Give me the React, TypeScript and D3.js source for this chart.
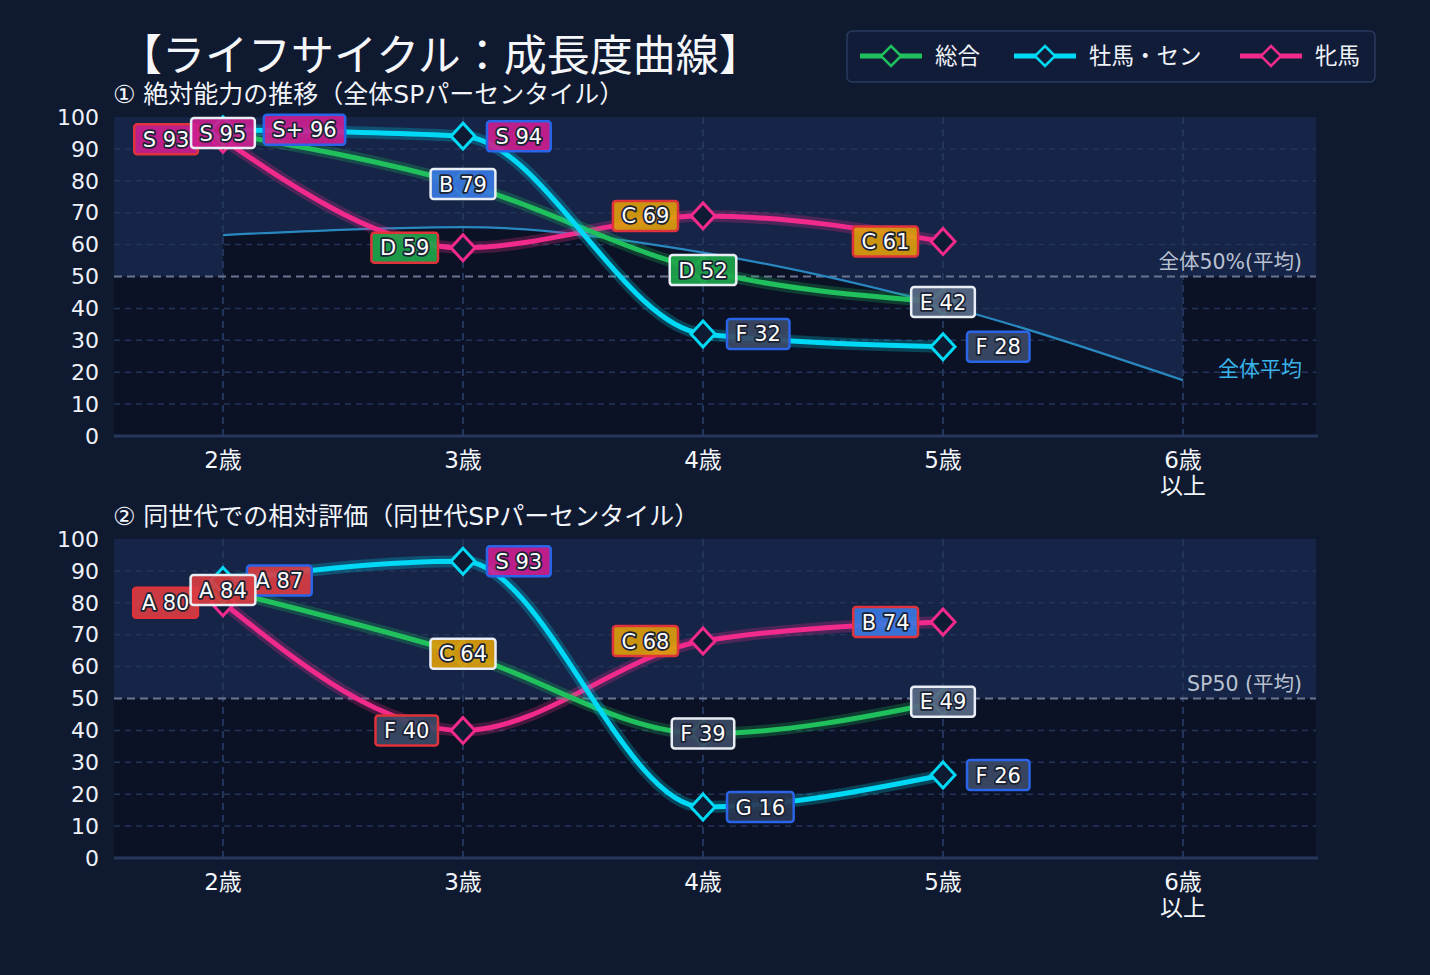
import React, { useEffect, useRef } from "react";
import * as d3 from "d3";

// ---- data ----
const ages = [2, 3, 4, 5, 6];
const ageLabels = [["2歳"], ["3歳"], ["4歳"], ["5歳"], ["6歳", "以上"]];
const seriesNames = ["総合", "牡馬・セン", "牝馬"];

// ① 絶対能力 (全体SPパーセンタイル)
const absTotal = [95, 79, 52, 42];
const absTotalGrade = ["S", "B", "D", "E"];
const absMale = [96, 94, 32, 28];
const absMaleGrade = ["S+", "S", "F", "F"];
const absFemale = [93, 59, 69, 61];
const absFemaleGrade = ["S", "D", "C", "C"];
const overallAvg = [63, 65.5, 57.5, 41, 17.5];

// ② 同世代 相対評価
const relTotal = [84, 64, 39, 49];
const relTotalGrade = ["A", "C", "F", "E"];
const relMale = [87, 93, 16, 26];
const relMaleGrade = ["A", "S", "G", "F"];
const relFemale = [80, 40, 68, 74];
const relFemaleGrade = ["A", "F", "C", "B"];

const yTicks = [0, 10, 20, 30, 40, 50, 60, 70, 80, 90, 100];

// ---- styles ----
const BG = "#0f1930";
const PLOT_LIGHT = "#152447";
const PLOT_DARK = "#0b1225";
const GRID = "#23355a";
const lineColors = ["#20c05c", "#00d9f5", "#f22a8c"];
const borderColors = ["#e9edf4", "#2a64e8", "#e0323a"];
const gradeFill = {
  "S+": "#cc2090", S: "#cc2090", A: "#d93d42", B: "#3a78e2", C: "#dc9d0d",
  D: "#1fa64b", E: "#5a6985", F: "#3c4a65", G: "#2a3753",
};
const FONT = "'DejaVu Sans', 'Noto Sans CJK JP', sans-serif";

export default function App() {
  const svgRef = useRef(null);

  useEffect(() => {
    const svg = d3.select(svgRef.current);
    svg.selectAll("*").remove();

    const x = d3.scaleLinear().domain([1.546, 6.554]).range([114, 1316]);

    svg.append("rect").attr("width", 1430).attr("height", 975).attr("fill", BG);

    // title
    svg.append("text").attr("x", 119).attr("y", 71)
      .attr("font-size", 43).attr("fill", "#f4f6fa").attr("font-family", FONT)
      .text("【ライフサイクル：成長度曲線】");

    // legend
    const lg = svg.append("g");
    lg.append("rect").attr("x", 847).attr("y", 31).attr("width", 528).attr("height", 51)
      .attr("rx", 5).attr("fill", "#111d38").attr("stroke", "#2a3a5d").attr("stroke-width", 1.5);
    const legX = [860, 1014, 1240];
    seriesNames.forEach((name, i) => {
      const lx = legX[i];
      lg.append("line").attr("x1", lx).attr("x2", lx + 62).attr("y1", 56).attr("y2", 56)
        .attr("stroke", lineColors[i]).attr("stroke-width", 5);
      lg.append("path").attr("d", "M0,-10L10,0L0,10L-10,0Z")
        .attr("transform", `translate(${lx + 31},56)`)
        .attr("fill", "#111d38").attr("stroke", lineColors[i]).attr("stroke-width", 2.5);
      lg.append("text").attr("x", lx + 75).attr("y", 56).attr("dy", "0.35em")
        .attr("font-size", 22.5).attr("fill", "#f0f3f8").attr("font-family", FONT).text(name);
    });

    const panels = [
      {
        top: 117, bottom: 436, subtitle: "① 絶対能力の推移（全体SPパーセンタイル）",
        midLabel: "全体50%(平均)", avg: overallAvg,
        series: [
          { v: absTotal, g: absTotalGrade },
          { v: absMale, g: absMaleGrade },
          { v: absFemale, g: absFemaleGrade },
        ],
      },
      {
        top: 539, bottom: 858, subtitle: "② 同世代での相対評価（同世代SPパーセンタイル）",
        midLabel: "SP50 (平均)", avg: null,
        series: [
          { v: relTotal, g: relTotalGrade },
          { v: relMale, g: relMaleGrade },
          { v: relFemale, g: relFemaleGrade },
        ],
      },
    ];

    panels.forEach((p) => {
      const y = d3.scaleLinear().domain([0, 100]).range([p.bottom, p.top]);
      const g = svg.append("g");
      const [x0, x1] = x.range();

      // backgrounds
      g.append("rect").attr("x", x0).attr("y", p.top).attr("width", x1 - x0)
        .attr("height", p.bottom - p.top).attr("fill", PLOT_DARK);
      if (p.avg) {
        g.append("rect").attr("x", x0).attr("y", p.top).attr("width", x(2) - x0)
          .attr("height", y(50) - p.top).attr("fill", PLOT_LIGHT);
        g.append("rect").attr("x", x(6)).attr("y", p.top).attr("width", x1 - x(6))
          .attr("height", y(50) - p.top).attr("fill", PLOT_LIGHT);
        const area = d3.area()
          .x((d, i) => x(ages[i])).y0(p.top).y1((d) => y(d))
          .curve(d3.curveMonotoneX);
        g.append("path").attr("d", area(p.avg)).attr("fill", PLOT_LIGHT);
      } else {
        g.append("rect").attr("x", x0).attr("y", p.top).attr("width", x1 - x0)
          .attr("height", y(50) - p.top).attr("fill", PLOT_LIGHT);
      }

      // grid
      yTicks.filter((t) => t > 0 && t < 100 && t !== 50).forEach((t) => {
        g.append("line").attr("x1", x0).attr("x2", x1).attr("y1", y(t)).attr("y2", y(t))
          .attr("stroke", GRID).attr("stroke-width", 1.5).attr("stroke-dasharray", "6,5");
      });
      ages.forEach((a) => {
        g.append("line").attr("x1", x(a)).attr("x2", x(a)).attr("y1", p.top).attr("y2", p.bottom)
          .attr("stroke", GRID).attr("stroke-width", 2).attr("stroke-dasharray", "7,5");
      });
      g.append("line").attr("x1", x0).attr("x2", x1).attr("y1", y(50)).attr("y2", y(50))
        .attr("stroke", "#6a7591").attr("stroke-width", 2).attr("stroke-dasharray", "8,5");
      g.append("text").attr("x", 1302).attr("y", y(50) - 15).attr("dy", "0.35em")
        .attr("text-anchor", "end").attr("font-size", 20.5).attr("fill", "#b9c1d1")
        .attr("font-family", FONT).text(p.midLabel);

      if (p.avg) {
        const avgLine = d3.line().x((d, i) => x(ages[i])).y((d) => y(d)).curve(d3.curveMonotoneX);
        g.append("path").attr("d", avgLine(p.avg)).attr("fill", "none")
          .attr("stroke", "#2a88c0").attr("stroke-width", 2.2);
        g.append("text").attr("x", 1302).attr("y", y(21)).attr("dy", "0.35em")
          .attr("text-anchor", "end").attr("font-size", 21).attr("fill", "#3ab3ea")
          .attr("font-family", FONT).text("全体平均");
      }

      // axes
      g.append("line").attr("x1", x0).attr("x2", x1 + 2).attr("y1", p.bottom).attr("y2", p.bottom)
        .attr("stroke", "#26375c").attr("stroke-width", 3);
      yTicks.forEach((t) => {
        g.append("text").attr("x", 99).attr("y", y(t)).attr("dy", "0.35em")
          .attr("text-anchor", "end").attr("font-size", 22).attr("fill", "#eef2f8")
          .attr("font-family", FONT).text(t);
      });
      ages.forEach((a, i) => {
        ageLabels[i].forEach((s, j) => {
          g.append("text").attr("x", x(a)).attr("y", p.bottom + 24 + j * 26).attr("dy", "0.35em")
            .attr("text-anchor", "middle").attr("font-size", 23).attr("fill", "#f2f5fa")
            .attr("font-family", FONT).text(s);
        });
      });
      g.append("text").attr("x", 113).attr("y", p.top - 23).attr("dy", "0.35em")
        .attr("font-size", 25).attr("fill", "#f2f5fa").attr("font-family", FONT)
        .text(p.subtitle);

      // series lines: pink, green, cyan (cyan on top)
      const line = d3.line().x((d, i) => x(ages[i])).y((d) => y(d)).curve(d3.curveMonotoneX);
      [2, 0, 1].forEach((si) => {
        const s = p.series[si];
        g.append("path").attr("d", line(s.v)).attr("fill", "none")
          .attr("stroke", lineColors[si]).attr("stroke-opacity", 0.25).attr("stroke-width", 12)
          .attr("stroke-linecap", "round");
        g.append("path").attr("d", line(s.v)).attr("fill", "none")
          .attr("stroke", lineColors[si]).attr("stroke-width", 5).attr("stroke-linecap", "round");
      });
      [2, 0, 1].forEach((si) => {
        p.series[si].v.forEach((v, i) => {
          g.append("path").attr("d", "M0,-13L12,0L0,13L-12,0Z")
            .attr("transform", `translate(${x(ages[i])},${y(v)})`)
            .attr("fill", "#0f1a33").attr("stroke", lineColors[si]).attr("stroke-width", 3);
        });
      });

      // labels: pink (left), cyan (right), green (centered, on top)
      const LFS = 21;
      const PAD = 17;
      const drawLabel = (si, i, v, grade, place, greenBox) => {
        const lbl = g.append("g");
        const txt = `${grade} ${v}`;
        const t = lbl.append("text").attr("font-size", LFS).attr("font-family", FONT)
          .attr("fill", "#ffffff").attr("stroke", "#1b2233").attr("stroke-width", 3.5)
          .attr("paint-order", "stroke").attr("stroke-linejoin", "round")
          .attr("text-anchor", "middle").attr("dy", "0.36em").text(txt);
        const w = t.node().getComputedTextLength() + PAD;
        const h = 30;
        const px = x(ages[i]);
        const py = y(v);
        let left;
        if (place === "left") left = px - 25 - w;
        else if (place === "right") {
          left = px + 24;
          if (greenBox && Math.abs(greenBox.cy - py) < 6) left = greenBox.right + 9;
        } else left = px - w / 2;
        lbl.insert("rect", "text").attr("x", left).attr("y", py - h / 2).attr("width", w).attr("height", h)
          .attr("rx", 3).attr("fill", gradeFill[grade]).attr("fill-opacity", 0.92)
          .attr("stroke", borderColors[si]).attr("stroke-width", 2.5);
        t.attr("x", left + w / 2).attr("y", py);
        return { cy: py, right: left + w };
      };
      const greenBoxes = p.series[0].v.map((v, i) => {
        const tmp = g.append("text").attr("font-size", LFS).attr("font-family", FONT)
          .text(`${p.series[0].g[i]} ${v}`);
        const w = tmp.node().getComputedTextLength() + PAD;
        tmp.remove();
        return { cy: y(v), right: x(ages[i]) + w / 2 };
      });
      p.series[2].v.forEach((v, i) => drawLabel(2, i, v, p.series[2].g[i], "left"));
      p.series[1].v.forEach((v, i) => drawLabel(1, i, v, p.series[1].g[i], "right", greenBoxes[i]));
      p.series[0].v.forEach((v, i) => drawLabel(0, i, v, p.series[0].g[i], "center"));
    });
  }, []);

  return (
    <svg
      ref={svgRef}
      width={1430}
      height={975}
      style={{ position: "absolute", left: 0, top: 0, display: "block" }}
    />
  );
}
